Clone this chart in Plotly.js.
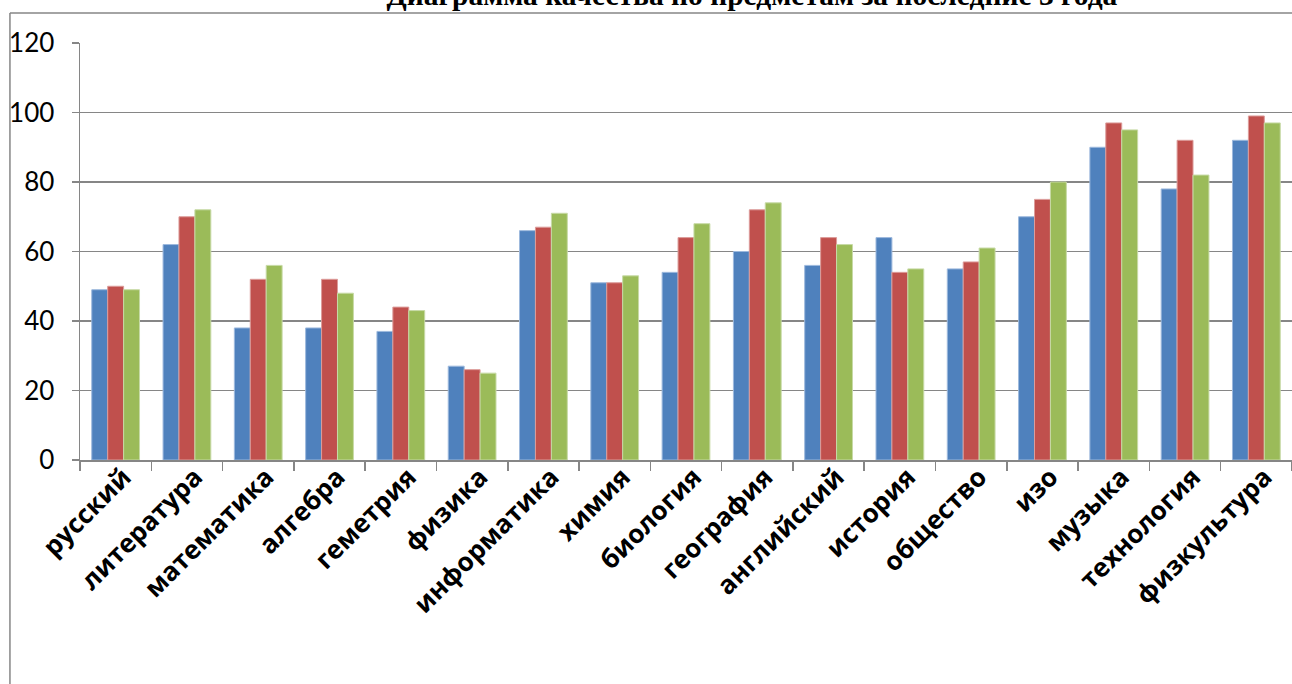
<!DOCTYPE html>
<html>
<head>
<meta charset="utf-8">
<script src="https://cdn.plot.ly/plotly-3.0.1.min.js"></script>
<style>html,body{margin:0;padding:0;background:#fff;}#chart{width:1292px;height:684px;}</style>
</head>
<body>
<div id="chart"></div>
<script>
const categories = ["русский","литература","математика","алгебра","геметрия","физика","информатика","химия","биология","география","английский","история","общество","изо","музыка","технология","физкультура"];
const year1 = [49, 62, 38, 38, 37, 27, 66, 51, 54, 60, 56, 64, 55, 70, 90, 78, 92];
const year2 = [50, 70, 52, 52, 44, 26, 67, 51, 64, 72, 64, 54, 57, 75, 97, 92, 99];
const year3 = [49, 72, 56, 48, 43, 25, 71, 53, 68, 74, 62, 55, 61, 80, 95, 82, 97];
const seriesNames = ["1 год", "2 год", "3 год"];
const yTicks = [0, 20, 40, 60, 80, 100, 120];
const titleText = "Диаграмма качества по предметам за последние 3 года";

const colors = ["#4F81BD", "#C0504D", "#9BBB59"];
const outline = ["#9DB9DD", "#DC9C9A", "#C7DAA6"];
const vals = [year1, year2, year3];

const traces = vals.map((v, i) => ({
  type: "bar",
  x: categories,
  y: v,
  name: seriesNames[i],
  marker: {color: colors[i], line: {color: outline[i], width: 1}}
}));

const grey = "#868686";
const layout = {
  width: 1292, height: 684,
  margin: {l: 80, r: 0, t: 43, b: 224, pad: 0},
  paper_bgcolor: "#ffffff", plot_bgcolor: "#ffffff",
  showlegend: false,
  barmode: "group",
  bargap: 0.33,
  bargroupgap: 0,
  title: {
    text: "<b>" + titleText + "</b>",
    font: {family: "Liberation Serif", size: 29.5, color: "#000"},
    xref: "container", x: 0.582, xanchor: "center",
    yref: "container", y: 0.993, yanchor: "bottom"
  },
  xaxis: {
    type: "category",
    range: [-0.5, 16.5],
    showline: true, linecolor: grey, linewidth: 1.5,
    ticks: "outside", tickson: "boundaries", ticklen: 9, tickcolor: grey, tickwidth: 1.5,
    tickangle: -45,
    ticklabelshift: 8,
    ticklabelstandoff: -10,
    tickfont: {family: "Open Sans", size: 26, color: "#000", weight: 700},
    showgrid: false, zeroline: false, fixedrange: true
  },
  yaxis: {
    range: [0, 120],
    tickvals: yTicks,
    showline: true, linecolor: grey, linewidth: 1.5,
    ticks: "outside", ticklen: 7, tickcolor: grey, tickwidth: 1.5,
    ticklabelstandoff: 12,
    showgrid: true, gridcolor: grey, gridwidth: 1.5,
    zeroline: false,
    tickfont: {family: "Lato", size: 26, color: "#000"},
    fixedrange: true
  },
  shapes: [
    {type: "line", xref: "paper", yref: "paper", x0: -0.0578, x1: -0.0578, y0: -0.6, y1: 1.072, line: {color: grey, width: 1.5}},
    {type: "line", xref: "paper", yref: "paper", x0: -0.0578, x1: 1.05, y0: 1.072, y1: 1.072, line: {color: grey, width: 1.5}}
  ]
};

Plotly.newPlot("chart", traces, layout, {displayModeBar: false, staticPlot: true});
</script>
</body>
</html>
